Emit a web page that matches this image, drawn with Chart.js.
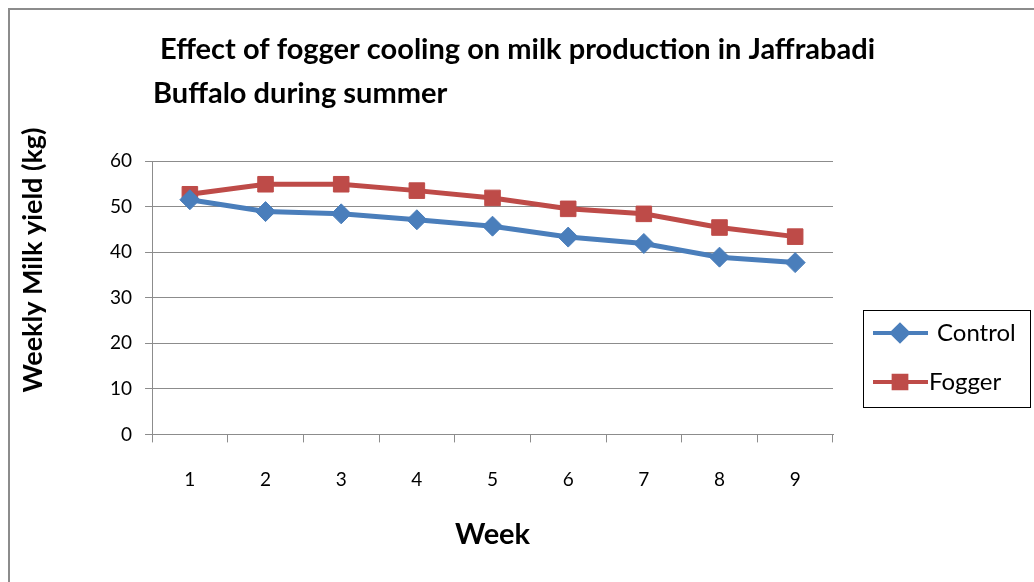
<!DOCTYPE html>
<html>
<head>
<meta charset="utf-8">
<script src="https://cdn.jsdelivr.net/npm/chart.js@4/dist/chart.umd.min.js"></script>
<style>
    body { margin: 0; background: #fff; overflow: hidden; }
    #frame { position: absolute; left: 8px; top: 8px; width: 1100px; height: 640px; border: 2px solid #8c8c8c; box-sizing: border-box; }
    #wrap { position: absolute; left: 0; top: 0; width: 1034px; height: 582px; }
</style>
</head>
<body>
<div id="frame"></div>
<div id="wrap"><canvas id="chart" width="1034" height="582"></canvas></div>
<script>
// chart data
const weeks = ['1', '2', '3', '4', '5', '6', '7', '8', '9'];
const control = [51.5, 48.9, 48.4, 47.1, 45.7, 43.3, 41.9, 38.9, 37.7];
const fogger = [52.7, 54.9, 54.9, 53.5, 51.9, 49.5, 48.4, 45.4, 43.4];
const yTicks = [0, 10, 20, 30, 40, 50, 60];

const titleLines = [' Effect of fogger cooling on milk production in Jaffrabadi', 'Buffalo during summer'];
const yTitle = 'Weekly Milk yield (kg)';
const xTitle = 'Week';

const fontFam = 'Lato, "Open Sans", sans-serif';

// title, y-axis title and boxed legend drawn on the canvas
const extras = {
    id: 'extras',
    afterDraw(chart) {
        const ctx = chart.ctx;
        const area = chart.chartArea;
        ctx.save();
        ctx.fillStyle = '#000';
        ctx.font = 'bold 29px ' + fontFam;
        ctx.textAlign = 'left';
        ctx.textBaseline = 'middle';
        ctx.fillText(titleLines[0], 153, 50);
        ctx.fillText(titleLines[1], 153, 94);

        ctx.font = 'bold 27px ' + fontFam;
        ctx.translate(33, 260);
        ctx.rotate(-Math.PI / 2);
        ctx.textAlign = 'center';
        ctx.fillText(yTitle, 0, 0);
        ctx.restore();

        // legend
        const lx = area.right + 30, ly = 310, lw = 167, lh = 97;
        ctx.save();
        ctx.strokeStyle = '#000';
        ctx.lineWidth = 1;
        ctx.strokeRect(lx + 0.5, ly + 0.5, lw, lh);
        ctx.font = '24px ' + fontFam;
        ctx.textBaseline = 'middle';
        chart.data.datasets.forEach((ds, i) => {
            const y = ly + 23 + i * 49;
            ctx.strokeStyle = ds.borderColor;
            ctx.lineWidth = 4;
            ctx.beginPath();
            ctx.moveTo(lx + 10, y);
            ctx.lineTo(lx + 65, y);
            ctx.stroke();
            ctx.fillStyle = ds.backgroundColor;
            ctx.strokeStyle = ds.backgroundColor;
            Chart.helpers.drawPoint(ctx, {
                pointStyle: ds.pointStyle,
                radius: ds.pointStyle === 'rect' ? 9 : 8,
                rotation: 0,
                borderWidth: 1
            }, lx + 37, y);
            ctx.fillStyle = '#000';
            ctx.fillText(ds.label, lx + (i === 0 ? 74 : 66), y);
        });
        ctx.restore();
    }
};

new Chart(document.getElementById('chart'), {
    type: 'line',
    data: {
        labels: weeks,
        datasets: [
            {
                label: 'Control',
                data: control,
                borderColor: '#4a7ebb',
                backgroundColor: '#4a7ebb',
                borderWidth: 5,
                pointStyle: 'rectRot',
                pointRadius: 10,
                pointBorderWidth: 1
            },
            {
                label: 'Fogger',
                data: fogger,
                borderColor: '#be4b48',
                backgroundColor: '#be4b48',
                borderWidth: 5,
                pointStyle: 'rect',
                pointRadius: 11,
                pointBorderWidth: 1
            }
        ]
    },
    options: {
        responsive: false,
        animation: false,
        layout: { padding: { left: 97, right: 201, top: 161, bottom: 30 } },
        plugins: {
            legend: { display: false },
            title: { display: false },
            tooltip: { enabled: false }
        },
        scales: {
            x: {
                offset: true,
                grid: { offset: true, drawOnChartArea: false, drawTicks: true, tickLength: 8, color: '#8c8c8c' },
                border: { color: '#8c8c8c', width: 1 },
                ticks: { color: '#000', font: { size: 19, family: fontFam }, padding: 26 },
                title: { display: true, text: xTitle, color: '#000', font: { size: 29, weight: 'bold', family: fontFam }, padding: { top: 0, bottom: 0 } }
            },
            y: {
                min: 0,
                max: 60,
                afterBuildTicks: axis => { axis.ticks = yTicks.map(v => ({ value: v })); },
                grid: { color: '#8c8c8c', tickLength: 7 },
                border: { color: '#8c8c8c', width: 1 },
                ticks: { color: '#000', font: { size: 19, family: fontFam }, padding: 13 }
            }
        }
    },
    plugins: [extras]
});
</script>
</body>
</html>
